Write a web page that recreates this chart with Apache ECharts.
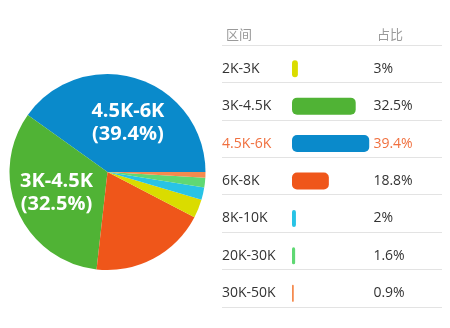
<!DOCTYPE html>
<html>
<head>
<meta charset="utf-8">
<script src="https://cdn.jsdelivr.net/npm/echarts@6/dist/echarts.min.js"></script>
<style>
html,body{margin:0;padding:0;background:#fff;}
#main{width:450px;height:328px;}
</style>
</head>
<body>
<div id="main"></div>
<script>
// ---- data ----
var categories = ['2K-3K', '3K-4.5K', '4.5K-6K', '6K-8K', '8K-10K', '20K-30K', '30K-50K'];
var values = [3, 32.5, 39.4, 18.8, 2, 1.6, 0.9];
var colors = ['#dadc00', '#50b335', '#0a8acb', '#ef561a', '#28c3e5', '#5fd873', '#f58a4e'];
var pieOrder = ['4.5K-6K', '3K-4.5K', '6K-8K', '2K-3K', '8K-10K', '20K-30K', '30K-50K'];
var pieLabelled = ['4.5K-6K', '3K-4.5K'];
var highlight = '4.5K-6K';
var headers = ['区间', '占比'];

var textColor = '#333333';
var hiColor = '#f0703f';

var pieData = pieOrder.map(function (name) {
  var i = categories.indexOf(name);
  var shown = pieLabelled.indexOf(name) >= 0;
  return {
    name: name,
    value: values[i],
    itemStyle: { color: colors[i] },
    label: shown ? {
      show: true,
      padding: name === '4.5K-6K' ? [0, 0, 14, 9] : [11, 7, 0, 0]
    } : { show: false }
  };
});

var barData = values.map(function (v, i) {
  return { value: v, itemStyle: { color: colors[i] } };
});

var chart = echarts.init(document.getElementById('main'), null, { renderer: 'canvas' });
chart.setOption({
  animation: false,
  backgroundColor: '#ffffff',
  title: [
    { text: headers[0], left: 221, top: 23, textStyle: { fontFamily: 'Noto Sans CJK SC', fontSize: 13, fontWeight: 'normal', color: '#9a9a9a' } },
    { text: headers[1], left: 372, top: 23, textStyle: { fontFamily: 'Noto Sans CJK SC', fontSize: 13, fontWeight: 'normal', color: '#9a9a9a' } }
  ],
  grid: [
    { left: 222, right: 8, top: 45, height: 262 },
    { left: 292, width: 78.4, top: 50, height: 262 }
  ],
  xAxis: [
    { gridIndex: 0, type: 'value', show: false, min: 0, max: 1 },
    { gridIndex: 1, type: 'value', show: false, min: 0, max: 40 }
  ],
  yAxis: [
    {
      gridIndex: 0, type: 'category', data: categories, inverse: true,
      axisLine: { show: false }, axisTick: { show: false }, axisLabel: { show: false },
      splitLine: { show: true, lineStyle: { color: '#e3e3e3', width: 1 } }
    },
    {
      gridIndex: 1, type: 'category', data: categories, inverse: true, position: 'left',
      axisLine: { show: false }, axisTick: { show: false }, splitLine: { show: false },
      axisLabel: {
        align: 'left', margin: 70, fontFamily: 'Open Sans', fontSize: 14,
        color: function (v) { return v === highlight ? hiColor : textColor; }
      }
    },
    {
      gridIndex: 1, type: 'category', data: categories, inverse: true, position: 'right',
      axisLine: { show: false }, axisTick: { show: false }, splitLine: { show: false },
      axisLabel: {
        align: 'left', margin: 3, fontFamily: 'Open Sans', fontSize: 14,
        color: function (v) { return v === highlight ? hiColor : textColor; },
        formatter: function (v) { return values[categories.indexOf(v)] + '%'; }
      }
    }
  ],
  series: [
    {
      type: 'pie',
      center: [107.5, 172],
      radius: [0, 98],
      startAngle: 0,
      clockwise: false,
      avoidLabelOverlap: false,
      label: {
        show: true, position: 'inside', color: '#ffffff',
        fontFamily: 'Open Sans', fontWeight: 'bold', fontSize: 20, lineHeight: 23,
        formatter: function (p) { return p.name + '\n(' + p.value + '%)'; }
      },
      labelLine: { show: false },
      itemStyle: { borderWidth: 0 },
      emphasis: { disabled: true },
      data: pieData
    },
    {
      type: 'bar',
      xAxisIndex: 1,
      yAxisIndex: 1,
      barWidth: 17,
      itemStyle: { borderRadius: 5 },
      data: barData
    }
  ]
});
</script>
</body>
</html>
